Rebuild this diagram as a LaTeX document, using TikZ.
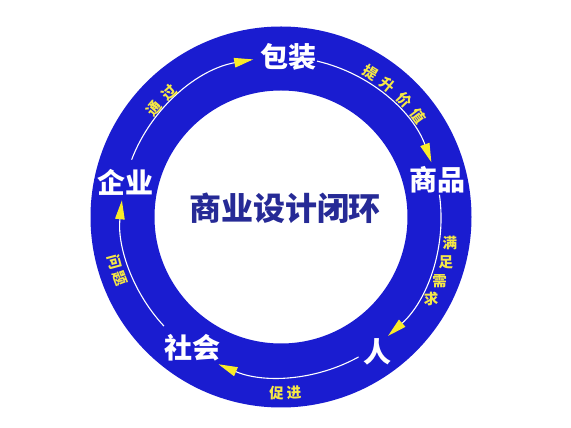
\documentclass[tikz,border=0pt]{standalone}
\usepackage{fontspec}
\newfontfamily\cjk{Noto Sans CJK SC}
\usetikzlibrary{arrows.meta}
\definecolor{ringblue}{RGB}{26,28,208}
\definecolor{navy}{RGB}{38,42,150}
\definecolor{ylab}{RGB}{245,232,70}
\definecolor{ytip}{RGB}{250,235,40}
\begin{document}
\begin{tikzpicture}[x=1pt,y=1pt,
  mainlabel/.style={text=white,font=\cjk\bfseries\fontsize{28}{28}\selectfont,inner sep=0pt},
  titlelabel/.style={text=navy,font=\cjk\bfseries\fontsize{32}{32}\selectfont,inner sep=0pt},
  ylabel/.style={text=ylab,font=\cjk\bfseries\fontsize{14.5}{14.5}\selectfont,inner sep=0pt},
  flow/.style={white,line width=1.1pt,-{Triangle[length=19pt,width=9.5pt,fill=ytip,color=ytip]}}]
\useasboundingbox (0,0) rectangle (571,428);
\fill[white] (0,0) rectangle (571,428);
\coordinate (c) at (281,211);
\fill[ringblue,even odd rule] (c) circle[radius=190.5] (c) circle[radius=126.5];
% main labels
\node[mainlabel] (pack) at (288,371) {包装};
\node[mainlabel] (prod) at (437,248) {商品};
\node[mainlabel] (ent) at (125,246) {企业};
\node[mainlabel] (soc) at (192,80) {社会};
\node[mainlabel] (ren) at (377,76) {人};
\node[titlelabel] (title) at (285,220) {商业设计闭环};
\begin{scope}[shift={(281,211)}]
  % flow arcs
  \coordinate (a1) at (159:160);
  \coordinate (a2) at (77:160);
  \coordinate (a3) at (8:160);
  \coordinate (a4) at (-61:160);
  \coordinate (a5) at (-137:160);
  \draw[flow] (a1) arc[start angle=159,end angle=100,radius=160];
  \draw[flow] (a2) arc[start angle=77,end angle=20,radius=160];
  \draw[flow] (a3) arc[start angle=8,end angle=-48,radius=160];
  \draw[flow] (a4) arc[start angle=-61,end angle=-113,radius=160];
  \draw[flow] (a5) arc[start angle=-137,end angle=-186,radius=160];
  % yellow labels
  \foreach \a/\ch [count=\i] in {139.4/通,132/过}
    \node[ylabel,rotate=\a-90] (tg\i) at (\a:167) {\ch};
  \foreach \a/\ch [count=\i] in {58.3/提,51/升,43.6/价,36.3/值}
    \node[ylabel,rotate=\a-90] (ts\i) at (\a:170) {\ch};
  \foreach \a/\ch [count=\i] in {-8.8/满,-15.4/足,-22/需,-28.6/求}
    \node[ylabel] (mz\i) at (\a:171) {\ch};
  \foreach \a/\ch [count=\i] in {-91.5/促,-85.8/进}
    \node[ylabel,rotate=\a+90] (cj\i) at (\a:176) {\ch};
  \foreach \a/\ch [count=\i] in {195.2/问,200.8/题}
    \node[ylabel,rotate=\a+90] (wt\i) at (\a:172) {\ch};
\end{scope}
\end{tikzpicture}
\end{document}
